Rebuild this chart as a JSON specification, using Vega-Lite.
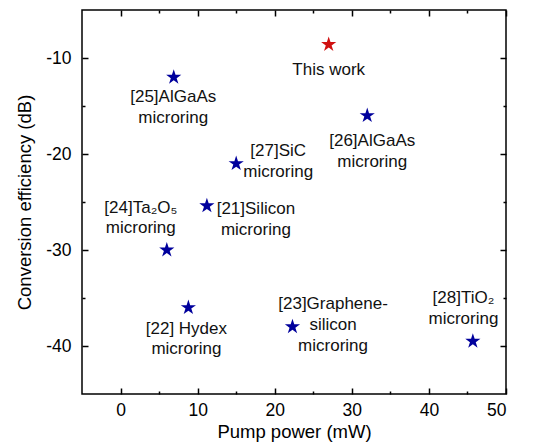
{
  "$schema": "https://vega.github.io/schema/vega-lite/v6.json",
  "width": 424,
  "height": 384,
  "autosize": {"type": "none"},
  "padding": {"left": 82, "top": 10, "right": 27, "bottom": 49},
  "config": {
    "view": {"stroke": "black", "strokeWidth": 1.5},
    "font": "Liberation Sans",
    "axis": {
      "grid": false,
      "domain": false,
      "tickColor": "black",
      "tickWidth": 1.5,
      "labelColor": "black",
      "titleColor": "black",
      "labelFontSize": 17.5,
      "titleFontSize": 18.5,
      "titleFontWeight": "normal",
      "labelFont": "Liberation Sans",
      "titleFont": "Liberation Sans"
    },
    "text": {"fontSize": 17, "font": "Liberation Sans", "color": "#111", "align": "center", "baseline": "middle", "lineBreak": "\n", "lineHeight": 21}
  },
  "data": {
    "values": [
      {"ref": "this", "label": "This work", "power": 27, "eff": -8.6, "group": "this"},
      {"ref": "25", "label": "[25]AlGaAs\nmicroring", "power": 6.9, "eff": -12, "group": "ref"},
      {"ref": "26", "label": "[26]AlGaAs\nmicroring", "power": 32, "eff": -16, "group": "ref"},
      {"ref": "27", "label": "[27]SiC\nmicroring", "power": 15, "eff": -21, "group": "ref"},
      {"ref": "21", "label": "[21]Silicon\nmicroring", "power": 11.2, "eff": -25.4, "group": "ref"},
      {"ref": "24", "label": "[24]Ta₂O₅\nmicroring", "power": 6, "eff": -30, "group": "ref"},
      {"ref": "22", "label": "[22] Hydex\nmicroring", "power": 8.8, "eff": -36, "group": "ref"},
      {"ref": "23", "label": "[23]Graphene-\nsilicon\nmicroring", "power": 22.3, "eff": -38, "group": "ref"},
      {"ref": "28", "label": "[28]TiO₂\nmicroring", "power": 45.7, "eff": -39.5, "group": "ref"}
    ]
  },
  "layer": [
    {
      "mark": {"type": "point", "shape": "M0,-1L0.225,-0.309L0.951,-0.309L0.363,0.118L0.588,0.809L0,0.382L-0.588,0.809L-0.363,0.118L-0.951,-0.309L-0.225,-0.309Z", "filled": true, "size": 255, "opacity": 1},
      "encoding": {
        "x": {
          "field": "power", "type": "quantitative",
          "scale": {"domain": [-5, 50], "nice": false, "zero": false},
          "axis": {"orient": "bottom", "values": [0, 10, 20, 30, 40, 50], "tickSize": -6, "labelPadding": 13.5, "title": "Pump power (mW)", "titlePadding": 3}
        },
        "y": {
          "field": "eff", "type": "quantitative",
          "scale": {"domain": [-45, -5], "nice": false, "zero": false},
          "axis": {"orient": "left", "values": [-40, -30, -20, -10], "tickSize": -6, "labelPadding": 17, "labelExpr": "replace(datum.label, '−', '-')", "title": "Conversion efficiency (dB)", "titlePadding": 11}
        },
        "color": {
          "field": "group", "type": "nominal",
          "scale": {"domain": ["this", "ref"], "range": ["#d01010", "#00009c"]},
          "legend": null
        }
      }
    },
    {
      "mark": {"type": "point", "opacity": 0},
      "encoding": {
        "x": {"field": "power", "type": "quantitative", "scale": {"domain": [-5, 50], "nice": false, "zero": false},
          "axis": {"orient": "bottom", "values": [5, 15, 25, 35, 45], "tickSize": -3, "labels": false, "title": null}},
        "y": {"field": "eff", "type": "quantitative", "scale": {"domain": [-45, -5], "nice": false, "zero": false},
          "axis": {"orient": "left", "values": [-35, -25, -15], "tickSize": -3, "labels": false, "title": null}}
      }
    },
    {
      "mark": {"type": "point", "opacity": 0},
      "encoding": {
        "x": {"field": "power", "type": "quantitative", "scale": {"domain": [-5, 50], "nice": false, "zero": false},
          "axis": {"orient": "top", "values": [0, 10, 20, 30, 40, 50], "tickSize": -6, "labels": false, "title": null}},
        "y": {"field": "eff", "type": "quantitative", "scale": {"domain": [-45, -5], "nice": false, "zero": false},
          "axis": {"orient": "right", "values": [-40, -30, -20, -10], "tickSize": -6, "labels": false, "title": null}}
      }
    },
    {
      "mark": {"type": "point", "opacity": 0},
      "encoding": {
        "x": {"field": "power", "type": "quantitative", "scale": {"domain": [-5, 50], "nice": false, "zero": false},
          "axis": {"orient": "top", "values": [5, 15, 25, 35, 45], "tickSize": -3, "labels": false, "title": null}},
        "y": {"field": "eff", "type": "quantitative", "scale": {"domain": [-45, -5], "nice": false, "zero": false},
          "axis": {"orient": "right", "values": [-35, -25, -15], "tickSize": -3, "labels": false, "title": null}}
      }
    },
    {"transform": [{"filter": "datum.ref === 'this'"}], "mark": {"type": "text", "dy": 25}, "encoding": {"x": {"field": "power", "type": "quantitative", "axis": null}, "y": {"field": "eff", "type": "quantitative", "axis": null}, "text": {"field": "label"}}},
    {"transform": [{"filter": "datum.ref === '25'"}], "mark": {"type": "text", "dx": -0.5, "dy": 20}, "encoding": {"x": {"field": "power", "type": "quantitative", "axis": null}, "y": {"field": "eff", "type": "quantitative", "axis": null}, "text": {"field": "label"}}},
    {"transform": [{"filter": "datum.ref === '26'"}], "mark": {"type": "text", "dx": 5, "dy": 25}, "encoding": {"x": {"field": "power", "type": "quantitative", "axis": null}, "y": {"field": "eff", "type": "quantitative", "axis": null}, "text": {"field": "label"}}},
    {"transform": [{"filter": "datum.ref === '27'"}], "mark": {"type": "text", "dx": 42, "dy": -12.6}, "encoding": {"x": {"field": "power", "type": "quantitative", "axis": null}, "y": {"field": "eff", "type": "quantitative", "axis": null}, "text": {"field": "label"}}},
    {"transform": [{"filter": "datum.ref === '21'"}], "mark": {"type": "text", "dx": 49, "dy": 3}, "encoding": {"x": {"field": "power", "type": "quantitative", "axis": null}, "y": {"field": "eff", "type": "quantitative", "axis": null}, "text": {"field": "label"}}},
    {"transform": [{"filter": "datum.ref === '24'"}], "mark": {"type": "text", "dx": -26, "dy": -41.7, "lineHeight": 20}, "encoding": {"x": {"field": "power", "type": "quantitative", "axis": null}, "y": {"field": "eff", "type": "quantitative", "axis": null}, "text": {"field": "label"}}},
    {"transform": [{"filter": "datum.ref === '22'"}], "mark": {"type": "text", "dx": -2, "dy": 21, "lineHeight": 20}, "encoding": {"x": {"field": "power", "type": "quantitative", "axis": null}, "y": {"field": "eff", "type": "quantitative", "axis": null}, "text": {"field": "label"}}},
    {"transform": [{"filter": "datum.ref === '23'"}], "mark": {"type": "text", "dx": 40.6, "dy": -22.7}, "encoding": {"x": {"field": "power", "type": "quantitative", "axis": null}, "y": {"field": "eff", "type": "quantitative", "axis": null}, "text": {"field": "label"}}},
    {"transform": [{"filter": "datum.ref === '28'"}], "mark": {"type": "text", "dx": -9.4, "dy": -43}, "encoding": {"x": {"field": "power", "type": "quantitative", "axis": null}, "y": {"field": "eff", "type": "quantitative", "axis": null}, "text": {"field": "label"}}}
  ],
  "resolve": {"axis": {"x": "independent", "y": "independent"}}
}
